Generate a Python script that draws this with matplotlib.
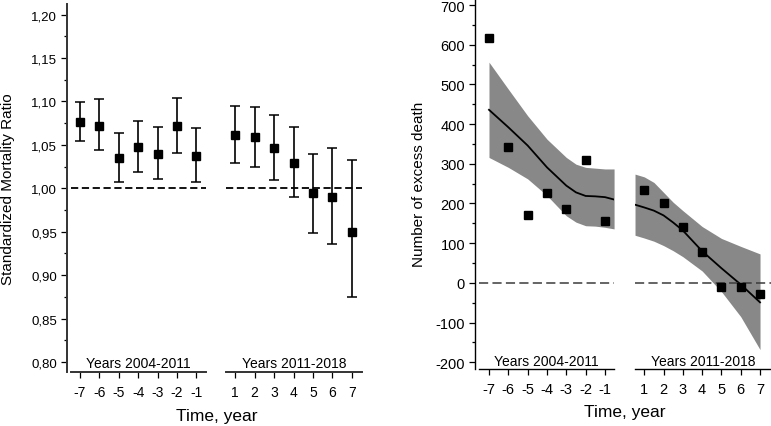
import matplotlib
matplotlib.use("Agg")
import matplotlib.pyplot as plt
from matplotlib.ticker import MultipleLocator, FuncFormatter

plt.rcParams['font.family'] = ['Liberation Sans', 'DejaVu Sans']
plt.rcParams['axes.unicode_minus'] = False

# SMR with 95% CI, before and after
years_before = [-7, -6, -5, -4, -3, -2, -1]
years_after = [1, 2, 3, 4, 5, 6, 7]
smr_before = [1.076, 1.072, 1.035, 1.047, 1.040, 1.072, 1.037]
smr_before_lo = [1.054, 1.044, 1.007, 1.019, 1.011, 1.041, 1.007]
smr_before_hi = [1.099, 1.103, 1.064, 1.077, 1.071, 1.104, 1.069]
smr_after = [1.061, 1.059, 1.046, 1.029, 0.994, 0.990, 0.950]
smr_after_lo = [1.029, 1.024, 1.010, 0.990, 0.949, 0.936, 0.875]
smr_after_hi = [1.095, 1.094, 1.084, 1.071, 1.040, 1.046, 1.033]

# excess deaths and fitted trend with confidence band
excess_before = [616, 343, 171, 226, 185, 309, 155]
excess_after = [235, 200, 142, 77, -10, -11, -27]

fit_x_before = [-7, -6, -5, -4, -3, -2.5, -2, -1.5, -1, -0.53]
fit_before = [436, 392, 346, 291, 245, 228, 219, 218, 216, 210]
fit_before_hi = [556, 488, 421, 362, 316, 299, 291, 289, 287, 287]
fit_before_lo = [316, 291, 262, 220, 169, 153, 144, 143, 140, 136]

fit_x_after = [0.52, 1, 1.5, 2, 2.5, 3, 4, 5, 6, 7]
fit_after = [197, 190, 182, 170, 152, 132, 80, 37, -4, -49]
fit_after_hi = [274, 267, 253, 228, 203, 182, 142, 112, 92, 73]
fit_after_lo = [120, 113, 105, 94, 81, 66, 30, -22, -85, -168]

W, H = 771, 427
fig = plt.figure(figsize=(W / 100, H / 100), dpi=100)


def add_ax(x0, x1, ytop, ybot):
    return fig.add_axes([x0 / W, 1 - ybot / H, (x1 - x0) / W, (ybot - ytop) / H])


def style(ax, first, spine_col, spine_w, xsize, ysize):
    ax.spines['top'].set_visible(False)
    ax.spines['right'].set_visible(False)
    ax.spines['bottom'].set_color(spine_col)
    ax.spines['bottom'].set_linewidth(spine_w)
    ax.tick_params(axis='x', direction='out', length=4, width=0.9, pad=5.5,
                   labelsize=xsize, colors='black')
    if first:
        ax.spines['left'].set_color(spine_col)
        ax.spines['left'].set_linewidth(spine_w)
        ax.spines['left'].set_position(('outward', 3))
        ax.tick_params(axis='y', which='major', direction='out', length=4,
                       width=0.9, pad=3, labelsize=ysize)
        ax.tick_params(axis='y', which='minor', direction='out', length=2.5,
                       width=0.9)
    else:
        ax.spines['left'].set_visible(False)
        ax.tick_params(axis='y', which='both', left=False, labelleft=False)


comma = FuncFormatter(lambda v, p: f"{v:.2f}".replace('.', ','))

# ---- left panel: SMR ----
axA = add_ax(71, 206, 5, 373)
axB = add_ax(226, 362, 5, 373)
for ax, xs, ys, lo, hi, xl, lab, first in [
        (axA, years_before, smr_before, smr_before_lo, smr_before_hi, (-7.46, -0.5), 'Years 2004-2011', True),
        (axB, years_after, smr_after, smr_after_lo, smr_after_hi, (0.536, 7.515), 'Years 2011-2018', False)]:
    err = [[y - l for y, l in zip(ys, lo)], [h - y for y, h in zip(ys, hi)]]
    ax.errorbar(xs, ys, yerr=err, fmt='s', color='black', ms=6, capsize=3.8,
                elinewidth=1.2, capthick=1.1, zorder=3)
    ax.axhline(1.0, color='black', lw=1.3, dashes=(4, 2), zorder=2)
    ax.set_xlim(*xl)
    ax.set_ylim(0.7885, 1.2121)
    ax.set_xticks(xs)
    ax.yaxis.set_major_locator(MultipleLocator(0.05))
    ax.yaxis.set_minor_locator(MultipleLocator(0.025))
    ax.yaxis.set_major_formatter(comma)
    style(ax, first, '#333333', 1.4, 10, 9.5)
    ax.text(0.5, 0.014, lab, transform=ax.transAxes, ha='center',
            va='baseline', fontsize=10)

fig.text(8 / W, 1 - 189 / H, 'Standardized Mortality Ratio', rotation=90,
         ha='center', va='center', fontsize=11)
fig.text(217 / W, 1 - 417 / H, 'Time, year', ha='center', va='center',
         fontsize=12.5)

# ---- right panel: excess deaths ----
axC = add_ax(479, 614, 1, 370)
axD = add_ax(635, 771, 1, 370)
for ax, xs, ys, fx, fy, flo, fhi, xl, lab, first in [
        (axC, years_before, excess_before, fit_x_before, fit_before, fit_before_lo,
         fit_before_hi, (-7.517, -0.534), 'Years 2004-2011', True),
        (axD, years_after, excess_after, fit_x_after, fit_after, fit_after_lo,
         fit_after_hi, (0.519, 7.569), 'Years 2011-2018', False)]:
    ax.fill_between(fx, flo, fhi, color='#888888', lw=0, zorder=1)
    ax.plot(fx, fy, color='black', lw=1.3, zorder=2)
    ax.axhline(0, color='#3a3a3a', lw=1.1, dashes=(6, 2.8), zorder=2)
    ax.plot(xs, ys, 's', color='black', ms=6.3, zorder=3)
    ax.set_xlim(*xl)
    ax.set_ylim(-216.9, 712.6)
    ax.set_xticks(xs)
    ax.yaxis.set_major_locator(MultipleLocator(100))
    ax.yaxis.set_minor_locator(MultipleLocator(50))
    style(ax, first, 'black', 1.0, 10.5, 10.5)
    ax.text(0.5, 0.012, lab, transform=ax.transAxes, ha='center',
            va='baseline', fontsize=10)

fig.text(419 / W, 1 - 184 / H, 'Number of excess death', rotation=90,
         ha='center', va='center', fontsize=11)
fig.text(625 / W, 1 - 413 / H, 'Time, year', ha='center', va='center',
         fontsize=12.5)

fig.savefig('out.png', dpi=100)
